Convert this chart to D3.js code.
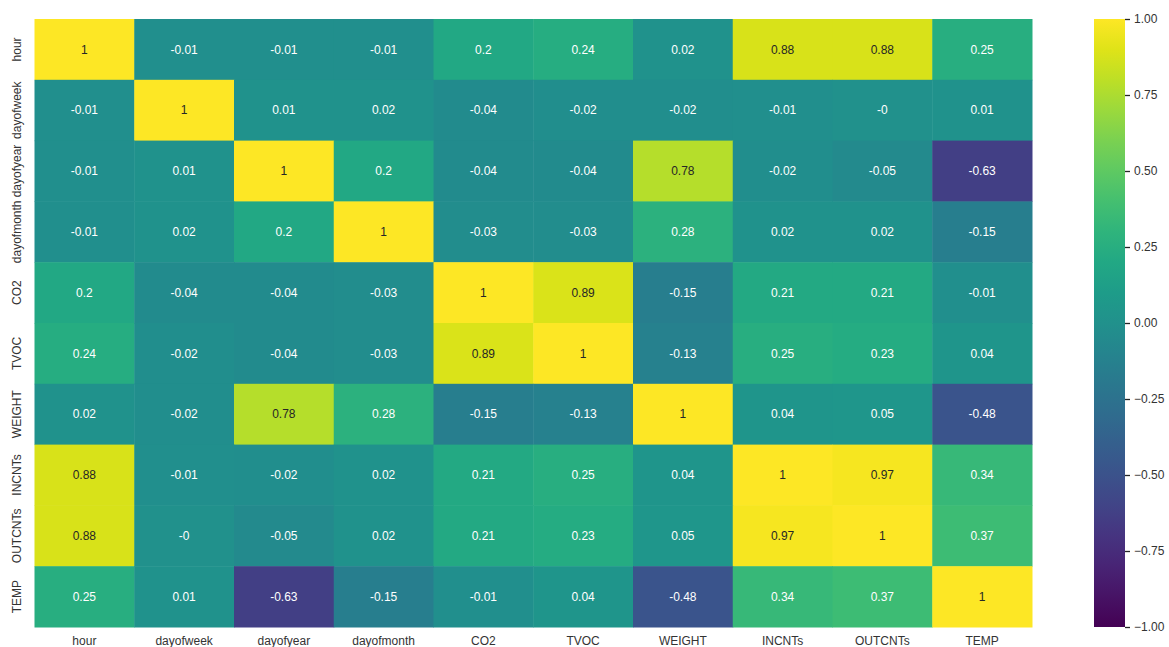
<!DOCTYPE html>
<html lang="en">
<head>
    <meta charset="UTF-8">
    <title>Correlation heatmap</title>
    <script src="https://d3js.org/d3.v7.js"></script>
    <style>
        body { margin: 0; background: #fff; }
        text { font-family: "Liberation Sans", Arial, sans-serif; }
    </style>
</head>
<body>
<svg width="1169" height="647"></svg>
<script>
    const labels = ["hour", "dayofweek", "dayofyear", "dayofmonth", "CO2", "TVOC", "WEIGHT", "INCNTs", "OUTCNTs", "TEMP"];

    // one row per variable
    const hour       = [1, -0.01, -0.01, -0.01, 0.2, 0.24, 0.02, 0.88, 0.88, 0.25];
    const dayofweek  = [-0.01, 1, 0.01, 0.02, -0.04, -0.02, -0.02, -0.01, -0, 0.01];
    const dayofyear  = [-0.01, 0.01, 1, 0.2, -0.04, -0.04, 0.78, -0.02, -0.05, -0.63];
    const dayofmonth = [-0.01, 0.02, 0.2, 1, -0.03, -0.03, 0.28, 0.02, 0.02, -0.15];
    const co2        = [0.2, -0.04, -0.04, -0.03, 1, 0.89, -0.15, 0.21, 0.21, -0.01];
    const tvoc       = [0.24, -0.02, -0.04, -0.03, 0.89, 1, -0.13, 0.25, 0.23, 0.04];
    const weight     = [0.02, -0.02, 0.78, 0.28, -0.15, -0.13, 1, 0.04, 0.05, -0.48];
    const incnts     = [0.88, -0.01, -0.02, 0.02, 0.21, 0.25, 0.04, 1, 0.97, 0.34];
    const outcnts    = [0.88, -0, -0.05, 0.02, 0.21, 0.23, 0.05, 0.97, 1, 0.37];
    const temp       = [0.25, 0.01, -0.63, -0.15, -0.01, 0.04, -0.48, 0.34, 0.37, 1];
    const rows = [hour, dayofweek, dayofyear, dayofmonth, co2, tvoc, weight, incnts, outcnts, temp];

    const cbTicks = [1, 0.75, 0.5, 0.25, 0, -0.25, -0.5, -0.75, -1];

    const svg = d3.select("svg");
    const mLeft = 34.5, mTop = 19, mRight = 1032, mBottom = 627;

    const x = d3.scaleBand().domain(labels).range([mLeft, mRight]);
    const y = d3.scaleBand().domain(labels).range([mTop, mBottom]);
    const color = d3.scaleSequential(d3.interpolateViridis).domain([-1, 1]);

    // flatten into cells
    let cells = [];
    rows.forEach((r, i) => r.forEach((v, j) => cells.push({row: labels[i], col: labels[j], v: v})));

    const fmt = v => Object.is(v, -0) ? "-0" : String(v);
    // seaborn-like text colour from luminance
    const textColor = v => {
        const c = d3.rgb(color(v));
        const lum = [c.r, c.g, c.b].map(u => {
            u = u / 255;
            return u <= 0.03928 ? u / 12.92 : Math.pow((u + 0.055) / 1.055, 2.4);
        });
        const L = 0.2126 * lum[0] + 0.7152 * lum[1] + 0.0722 * lum[2];
        return L > 0.408 ? "#262626" : "#ffffff";
    };

    let g = svg.selectAll(".cell")
        .data(cells)
        .join("g")
        .classed("cell", true);

    g.append("rect")
        .attr("x", d => x(d.col))
        .attr("y", d => y(d.row))
        .attr("width", x.bandwidth() + 0.5)
        .attr("height", y.bandwidth() + 0.5)
        .style("fill", d => color(d.v));

    g.append("text")
        .attr("x", d => x(d.col) + x.bandwidth() / 2)
        .attr("y", d => y(d.row) + y.bandwidth() / 2)
        .attr("dy", "0.35em")
        .attr("text-anchor", "middle")
        .style("font-size", "12px")
        .style("fill", d => textColor(d.v))
        .text(d => fmt(d.v));

    // x labels
    svg.append("g").selectAll("text")
        .data(labels)
        .join("text")
        .attr("x", d => x(d) + x.bandwidth() / 2)
        .attr("y", 641)
        .attr("dy", "0.35em")
        .attr("text-anchor", "middle")
        .style("font-size", "12px")
        .style("fill", "#333")
        .text(d => d);

    // y labels, rotated
    svg.append("g").selectAll("text")
        .data(labels)
        .join("text")
        .attr("transform", d => "translate(17," + (y(d) + y.bandwidth() / 2) + ") rotate(-90)")
        .attr("dy", "0.35em")
        .attr("text-anchor", "middle")
        .style("font-size", "12px")
        .style("fill", "#333")
        .text(d => d);

    // colour bar
    const cbX = 1094, cbW = 31;
    const cbScale = d3.scaleLinear().domain([-1, 1]).range([mBottom, mTop]);
    const defs = svg.append("defs");
    const grad = defs.append("linearGradient")
        .attr("id", "cb").attr("x1", 0).attr("y1", 1).attr("x2", 0).attr("y2", 0);
    d3.range(0, 1.0001, 0.05).forEach(t => {
        grad.append("stop").attr("offset", t).attr("stop-color", d3.interpolateViridis(t));
    });
    svg.append("rect")
        .attr("x", cbX).attr("y", mTop)
        .attr("width", cbW).attr("height", mBottom - mTop)
        .style("fill", "url(#cb)");

    const cbAxis = svg.append("g")
        .attr("transform", "translate(" + (cbX + cbW) + ",0)")
        .call(d3.axisRight(cbScale).tickValues(cbTicks).tickSize(5).tickPadding(4)
            .tickFormat(d => d3.format(".2f")(d).replace("-", "\u2212")));
    cbAxis.select(".domain").remove();
    cbAxis.selectAll("line").style("stroke", "#262626").style("stroke-width", 1.3);
    cbAxis.selectAll("text").style("font-size", "12px").style("fill", "#333")
        .style("font-family", "Liberation Sans, Arial, sans-serif");
</script>
</body>
</html>
